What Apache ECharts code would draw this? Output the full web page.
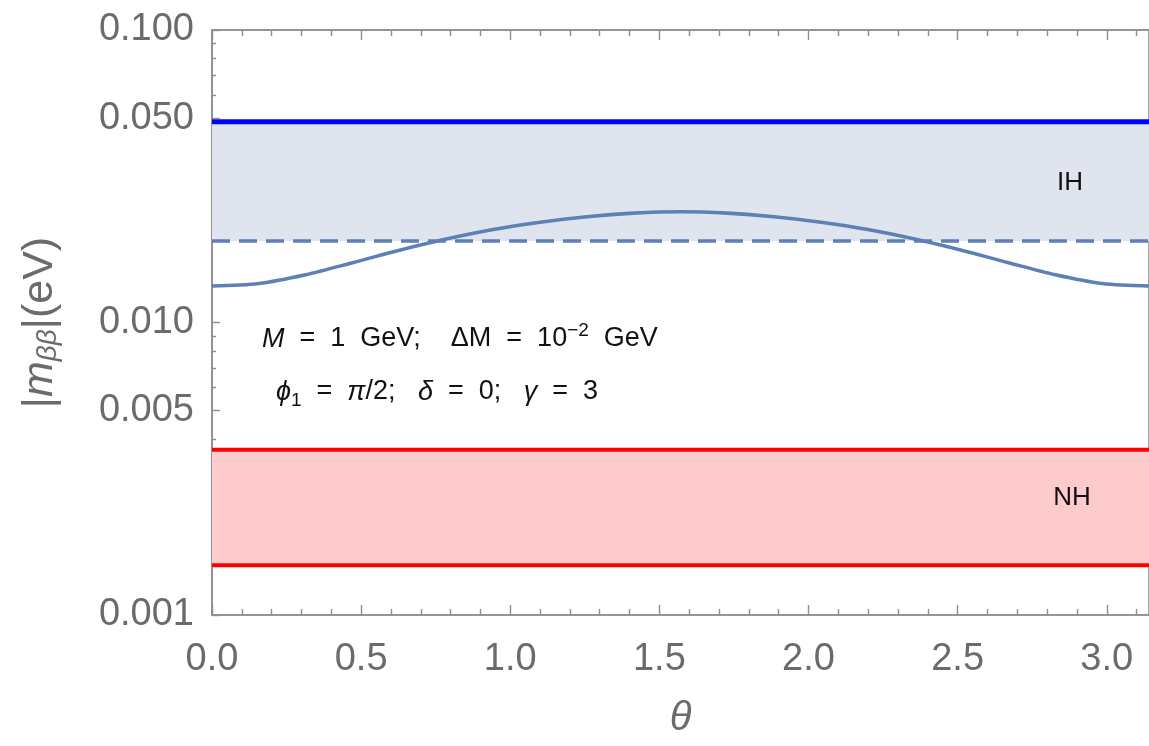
<!DOCTYPE html>
<html><head><meta charset="utf-8">
<script src="https://cdn.jsdelivr.net/npm/echarts@6/dist/echarts.min.js"></script>
<style>html,body{margin:0;padding:0;background:#fff}#c{width:1149px;height:746px}</style>
</head><body><div id="c"></div>
<script>
// ---- data ----
const thetaValues = [0, 0.1571, 0.3142, 0.4712, 0.6283, 0.7854, 0.9425, 1.0996, 1.2566, 1.4137, 1.5708,
                     1.7279, 1.8850, 2.0420, 2.1991, 2.3562, 2.5133, 2.6704, 2.8274, 2.9845, 3.1416];
const mbbValues   = [0.01333, 0.01360, 0.01457, 0.01601, 0.01767, 0.01930, 0.02080, 0.02203, 0.02300, 0.02365, 0.02390,
                     0.02365, 0.02300, 0.02203, 0.02080, 0.01930, 0.01767, 0.01601, 0.01457, 0.01360, 0.01333];
const ihBand = [0.019, 0.0486];     // [lower (dashed), upper (blue)]
const nhBand = [0.00148, 0.00367];  // [lower, upper]
const xMajorTicks = [0, 0.5, 1, 1.5, 2, 2.5, 3];
const xMinorTicks = [0.1,0.2,0.3,0.4,0.6,0.7,0.8,0.9,1.1,1.2,1.3,1.4,1.6,1.7,1.8,1.9,2.1,2.2,2.3,2.4,2.6,2.7,2.8,2.9,3.1];
const yMajorTicks = [0.001, 0.005, 0.01, 0.05, 0.1];
const yMinorTicks = [0.002,0.003,0.004,0.006,0.007,0.008,0.009,0.02,0.03,0.04,0.06,0.07,0.08,0.09];
const xRange = [0, Math.PI];
const yRange = [0.001, 0.1];

// ---- styles ----
const FONT = '"Liberation Sans", Arial, Helvetica, sans-serif';
const AX = '#8e8e8e', LBL = '#6b6b6b';
const CURVE = '#5E81B5';

const chart = echarts.init(document.getElementById('c'), null, {renderer: 'canvas'});

function xAx(pos, ticks, len, withLabels) {
  const a = {
    type: 'value', position: pos, min: xRange[0], max: xRange[1],
    splitLine: {show: false},
    axisLine: {show: true, onZero: false, lineStyle: {color: AX, width: 1.6}},
    axisTick: {show: true, inside: true, length: len, customValues: ticks, lineStyle: {color: AX, width: 1.4}},
    axisLabel: {show: false}
  };
  if (withLabels) {
    a.axisLabel = {show: true, customValues: xMajorTicks, margin: 26, color: LBL, fontSize: 38, fontFamily: FONT,
      formatter: v => v.toFixed(1)};
    a.name = 'θ'; a.nameLocation = 'middle'; a.nameGap = 84;
    a.nameTextStyle = {color: LBL, fontSize: 40, fontStyle: 'italic', fontFamily: FONT};
  }
  return a;
}
function yAx(pos, ticks, len, withLabels) {
  const a = {
    type: 'log', logBase: 10, position: pos, min: yRange[0], max: yRange[1],
    splitLine: {show: false},
    axisLine: {show: true, onZero: false, lineStyle: {color: AX, width: 1.6}},
    axisTick: {show: ticks != null, inside: true, length: len, customValues: ticks || [], lineStyle: {color: AX, width: 1.4}},
    axisLabel: {show: false}
  };
  if (withLabels) {
    a.axisLabel = {show: true, customValues: yMajorTicks, margin: 18, color: LBL, fontSize: 38, fontFamily: FONT,
      formatter: v => Number(v).toFixed(3)};
    a.name = '|{it|m}{sub|ββ}|(eV)'; a.nameLocation = 'middle'; a.nameGap = 150; a.nameRotate = 90;
    a.nameTextStyle = {color: LBL, fontSize: 43, fontFamily: FONT,
      rich: {it: {fontStyle: 'italic', fontSize: 43, color: LBL, fontFamily: FONT},
             sub: {fontStyle: 'italic', fontSize: 28, color: LBL, fontFamily: FONT, verticalAlign: 'bottom', lineHeight: 34}}};
  }
  return a;
}

function hline(v, color, width, dashed) {
  return {
    type: 'line', xAxisIndex: 0, yAxisIndex: 0, symbol: 'none', silent: true,
    data: [[xRange[0], v], [xRange[1], v]],
    lineStyle: {color: color, width: width, type: dashed ? [18, 9] : 'solid'}
  };
}

const ihUpperS = hline(ihBand[1], '#0000FF', 5, false);
ihUpperS.markArea = {silent: true, itemStyle: {color: '#DFE4EF'}, data: [[{yAxis: ihBand[0]}, {yAxis: ihBand[1]}]]};
ihUpperS.z = 2;
const ihLowerS = hline(ihBand[0], CURVE, 3.5, true); ihLowerS.z = 3;
const nhUpperS = hline(nhBand[1], '#FF0000', 4, false);
nhUpperS.markArea = {silent: true, itemStyle: {color: '#FDCBCB'}, data: [[{yAxis: nhBand[0]}, {yAxis: nhBand[1]}]]};
const nhLowerS = hline(nhBand[0], '#FF0000', 4, false);

const curveS = {
  type: 'line', xAxisIndex: 0, yAxisIndex: 0, symbol: 'none', smooth: 0.3, z: 4,
  data: thetaValues.map((t, i) => [t, mbbValues[i]]),
  lineStyle: {color: CURVE, width: 3.6}
};

const S = '\u00a0';
const sp = n => S.repeat(n);
chart.setOption({
  animation: false,
  backgroundColor: '#ffffff',
  grid: {left: 212, right: -6, top: 30, bottom: 131, containLabel: false},
  xAxis: [xAx('bottom', xMajorTicks, 10, true), xAx('bottom', xMinorTicks, 6, false),
          xAx('top', xMajorTicks, 10, false), xAx('top', xMinorTicks, 6, false)],
  yAxis: [yAx('left', yMajorTicks, 8, true), yAx('left', yMinorTicks, 4, false), yAx('right', null, 0, false)],
  series: [ihUpperS, ihLowerS, nhUpperS, nhLowerS, curveS],
  graphic: [
    {type: 'text', x: 1070, y: 183, z: 10, style: {text: 'IH', fill: '#111', font: '26px ' + FONT, align: 'center', verticalAlign: 'middle'}},
    {type: 'text', x: 1072, y: 498, z: 10, style: {text: 'NH', fill: '#111', font: '26px ' + FONT, align: 'center', verticalAlign: 'middle'}},
    {type: 'text', x: 262, y: 339, z: 10, style: {
      text: '{it|M}' + sp(2) + '=' + sp(2) + '1' + sp(2) + 'GeV;' + sp(4) + 'ΔM' + sp(2) + '=' + sp(2) + '10{sup|−2}' + sp(2) + 'GeV',
      fill: '#111', font: '27px ' + FONT, align: 'left', verticalAlign: 'middle',
      rich: {it: {fontStyle: 'italic', fontSize: 27, fontFamily: FONT, fill: '#111', lineHeight: 36},
             sup: {fontSize: 19, fontFamily: FONT, fill: '#111', verticalAlign: 'top', lineHeight: 19}}}},
    {type: 'text', x: 276, y: 392, z: 10, style: {
      text: '{it|ϕ}{sub|1}' + sp(2) + '=' + sp(2) + '{it|π}/2;' + sp(3) + '{it|δ}' + sp(2) + '=' + sp(2) + '0;' + sp(3) + '{it|γ}' + sp(2) + '=' + sp(2) + '3',
      fill: '#111', font: '27px ' + FONT, align: 'left', verticalAlign: 'middle',
      rich: {it: {fontStyle: 'italic', fontSize: 27, fontFamily: FONT, fill: '#111', lineHeight: 36},
             sub: {fontSize: 19, fontFamily: FONT, fill: '#111', verticalAlign: 'bottom', lineHeight: 25}}}}
  ]
});
</script></body></html>
